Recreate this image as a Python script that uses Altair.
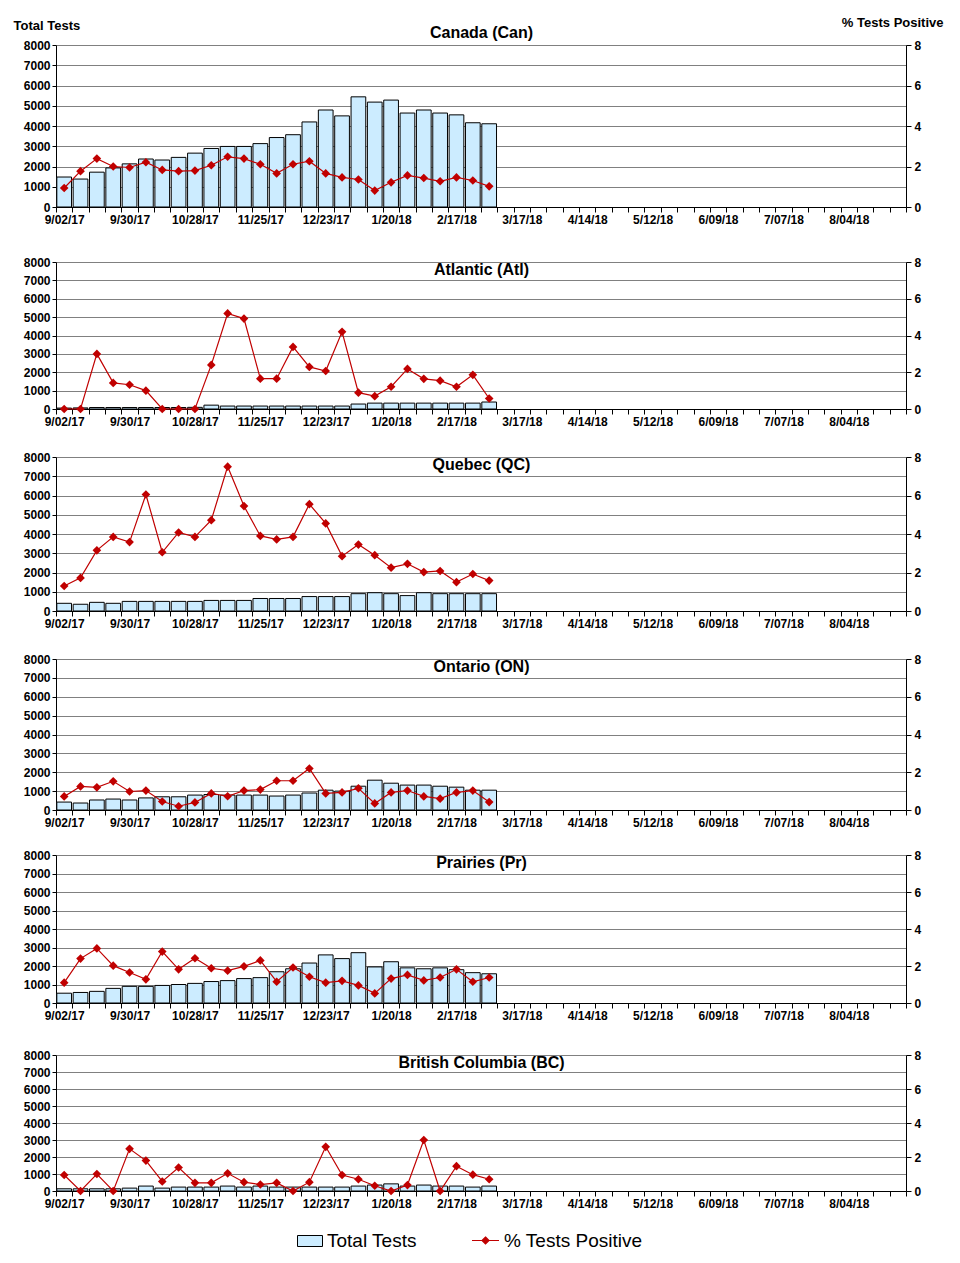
import altair as alt
import pandas as pd

N_WEEKS = 52
tick_labels = ["9/02/17", "9/30/17", "10/28/17", "11/25/17", "12/23/17", "1/20/18",
               "2/17/18", "3/17/18", "4/14/18", "5/12/18", "6/09/18", "7/07/18", "8/04/18"]

regions = ["Canada (Can)", "Atlantic (Atl)", "Quebec (QC)", "Ontario (ON)",
           "Prairies (Pr)", "British Columbia (BC)"]

can_tests = [1480, 1380, 1720, 1930, 2130, 2370, 2320, 2450, 2660, 2890, 2990, 2990, 3130, 3430,
             3570, 4200, 4790, 4500, 5440, 5180, 5280, 4640, 4790, 4640, 4550, 4160, 4110]
can_pct = [0.94, 1.77, 2.39, 2.0, 1.95, 2.21, 1.83, 1.77, 1.80, 2.06, 2.48, 2.39, 2.11, 1.66,
           2.11, 2.26, 1.66, 1.46, 1.36, 0.81, 1.22, 1.56, 1.43, 1.27, 1.46, 1.31, 1.02]

atl_tests = [50, 60, 80, 80, 80, 80, 80, 80, 90, 210, 160, 160, 160, 160, 160, 160, 160, 160,
             270, 320, 320, 320, 320, 320, 320, 320, 380]
atl_pct = [0.0, 0.0, 3.0, 1.42, 1.32, 1.0, 0.0, 0.0, 0.0, 2.4, 5.2, 4.92, 1.65, 1.65, 3.38,
           2.29, 2.07, 4.2, 0.89, 0.7, 1.21, 2.18, 1.64, 1.54, 1.21, 1.86, 0.57]

qc_tests = [400, 350, 450, 400, 500, 500, 500, 500, 500, 550, 550, 550, 650, 650, 650, 750,
            750, 750, 900, 950, 900, 800, 950, 900, 900, 900, 900]
qc_pct = [1.3, 1.72, 3.15, 3.85, 3.58, 6.05, 3.05, 4.08, 3.85, 4.72, 7.5, 5.45, 3.9, 3.72,
          3.85, 5.55, 4.55, 2.85, 3.45, 2.9, 2.25, 2.45, 2.02, 2.08, 1.5, 1.92, 1.58]

on_tests = [420, 370, 530, 580, 530, 640, 700, 700, 790, 820, 790, 790, 790, 740, 790, 900,
            1050, 1000, 1260, 1580, 1420, 1320, 1320, 1260, 1210, 1050, 1050]
on_pct = [0.72, 1.25, 1.2, 1.52, 0.98, 1.03, 0.45, 0.2, 0.4, 0.88, 0.73, 1.03, 1.08, 1.55,
          1.55, 2.2, 0.88, 0.93, 1.15, 0.35, 0.93, 1.03, 0.72, 0.6, 0.93, 1.03, 0.42]

pr_tests = [530, 570, 630, 790, 900, 900, 950, 1000, 1060, 1160, 1210, 1320, 1370, 1690,
            1850, 2160, 2600, 2400, 2720, 1950, 2230, 1900, 1850, 1900, 1800, 1640, 1580]
pr_pct = [1.1, 2.4, 2.95, 2.02, 1.65, 1.28, 2.78, 1.82, 2.42, 1.88, 1.75, 1.98, 2.3, 1.15,
          1.92, 1.42, 1.1, 1.2, 0.95, 0.52, 1.32, 1.52, 1.22, 1.38, 1.82, 1.15, 1.38]

bc_tests = [130, 130, 130, 130, 170, 290, 170, 230, 230, 230, 290, 230, 290, 230, 230, 230,
            230, 230, 290, 350, 420, 290, 350, 290, 290, 230, 290]
bc_pct = [0.94, 0.0, 1.0, 0.0, 2.48, 1.79, 0.56, 1.38, 0.48, 0.48, 1.04, 0.52, 0.38, 0.48,
          0.0, 0.52, 2.6, 0.94, 0.69, 0.31, 0.0, 0.35, 3.0, 0.0, 1.46, 0.96, 0.69]

FONT = "Liberation Sans"
BAR_FILL = "#CCECFF"
LINE_COLOR = "#C00000"
GRID = "#808080"
W = 850
HEIGHTS = [162, 147, 154, 151, 148, 136]

label_expr = ("datum.value % 4 == 0 && datum.value < 52 ? ["
              + ",".join("'" + l + "'" for l in tick_labels)
              + "][datum.value / 4] : ''")


def make_panel(title, tests, pct, height, first=False):
    df = pd.DataFrame({"week": list(range(len(tests))), "tests": tests, "pct": pct})
    df["series_bar"] = "Total Tests"
    df["series_pct"] = "% Tests Positive"
    base = alt.Chart(df).transform_calculate(
        x0="datum.week + 0.05", x1="datum.week + 0.95", xm="datum.week + 0.5"
    )
    xscale = alt.Scale(domain=[0, N_WEEKS], nice=False, zero=False)
    xaxis = alt.Axis(values=list(range(N_WEEKS + 1)), labelExpr=label_expr,
                     labelOffset=W / N_WEEKS / 2, labelFlush=False, labelOverlap=False,
                     grid=False, tickSize=5, labelPadding=2,
                     title=title, titleX=W / 2, titleAlign="center",
                     titleBaseline="alphabetic", titleFontSize=16, titleAnchor="middle",
                     titleY=(-height - 8) if first else (-height + 12))
    yl_kwargs = dict(values=list(range(0, 8001, 1000)), grid=True, gridColor=GRID,
                     tickSize=4, labelPadding=2, format="d", labelFlush=False)
    yr_kwargs = dict(values=[0, 2, 4, 6, 8], grid=False, orient="right", tickSize=5,
                     labelPadding=3, format="d", labelFlush=False)
    if first:
        yl_kwargs.update(title="Total Tests", titleAngle=0, titleAlign="left",
                         titleBaseline="bottom", titleX=-43, titleY=-13)
        yr_kwargs.update(title="% Tests Positive", titleAngle=0, titleAlign="right",
                         titleBaseline="bottom", titleX=37, titleY=-16)
    else:
        yl_kwargs.update(title=None)
        yr_kwargs.update(title=None)
    yaxis_l = alt.Axis(**yl_kwargs)
    yaxis_r = alt.Axis(**yr_kwargs)

    bars = base.mark_bar(stroke="black", strokeWidth=1).encode(
        x=alt.X("x0:Q", scale=xscale, axis=xaxis),
        x2="x1:Q",
        y=alt.Y("tests:Q", scale=alt.Scale(domain=[0, 8000], nice=False), axis=yaxis_l),
        y2=alt.datum(0),
        fill=alt.Fill("series_bar:N",
                      scale=alt.Scale(domain=["Total Tests"], range=[BAR_FILL]),
                      legend=alt.Legend(title=None, orient="none", legendX=241, legendY=1183,
                                        symbolType="M-1,-0.44H1V0.44H-1Z", symbolSize=625,
                                        symbolStrokeColor="black", symbolStrokeWidth=1,
                                        labelFontSize=19, labelFont=FONT, labelColor="black",
                                        labelOffset=4)),
    )
    yscale_r = alt.Scale(domain=[0, 8], nice=False)
    line = base.mark_line(color=LINE_COLOR, strokeWidth=1.2).encode(
        x=alt.X("xm:Q", scale=xscale, axis=xaxis),
        y=alt.Y("pct:Q", scale=yscale_r, axis=yaxis_r),
    )
    pts = base.mark_point(filled=True, shape="diamond", size=75, opacity=1).encode(
        x=alt.X("xm:Q", scale=xscale, axis=xaxis),
        y=alt.Y("pct:Q", scale=yscale_r, axis=yaxis_r),
        color=alt.Color("series_pct:N",
                        scale=alt.Scale(domain=["% Tests Positive"], range=[LINE_COLOR]),
                        legend=alt.Legend(title=None, orient="none", legendX=415, legendY=1181,
                                          symbolType="M-1,0H1M0,-0.26L0.26,0L0,0.26L-0.26,0Z",
                                          symbolSize=729, symbolStrokeColor=LINE_COLOR,
                                          symbolStrokeWidth=1.2, labelFontSize=19,
                                          labelFont=FONT, labelColor="black", labelOffset=4)),
    )
    return alt.layer(bars, alt.layer(line, pts)).resolve_scale(y="independent").properties(
        width=W, height=height
    )


data = [(can_tests, can_pct), (atl_tests, atl_pct), (qc_tests, qc_pct),
        (on_tests, on_pct), (pr_tests, pr_pct), (bc_tests, bc_pct)]

panels = [make_panel(regions[i], data[i][0], data[i][1], HEIGHTS[i], first=(i == 0))
          for i in range(6)]

g1 = alt.vconcat(panels[1], panels[2], panels[3], spacing=24)
g2 = alt.vconcat(g1, panels[4], spacing=21)
g3 = alt.vconcat(g2, panels[5], spacing=28)
chart = alt.vconcat(panels[0], g3, spacing=31).properties(
    padding={"left": 5, "top": 8, "right": 5, "bottom": 5},
    background="white",
).configure_view(stroke=None).configure_axis(
    labelFont=FONT, labelFontSize=12, labelFontWeight="bold", labelColor="black",
    titleFont=FONT, titleFontSize=13, titleFontWeight="bold", titleColor="black",
    domainColor="black", tickColor="black", domainWidth=1, tickWidth=1,
)

chart.save("out.html", embed_options={"renderer": "svg", "actions": False})
